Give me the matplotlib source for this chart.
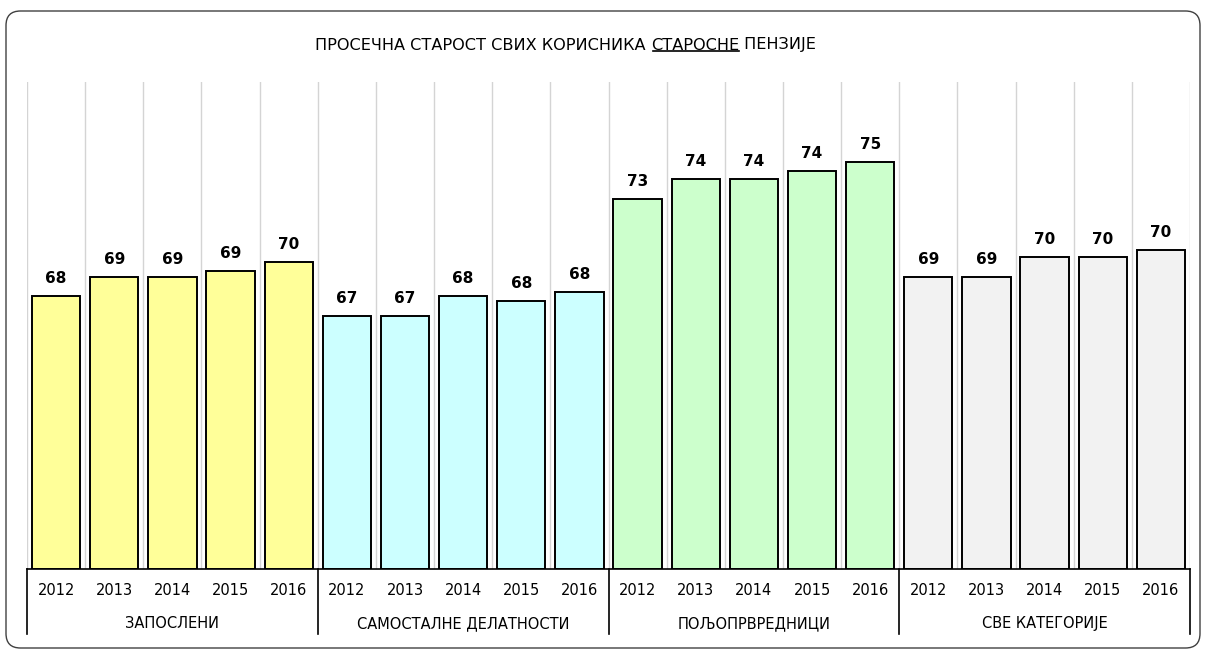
import matplotlib
matplotlib.use("Agg")
import matplotlib.pyplot as plt
from matplotlib.lines import Line2D
from matplotlib.patches import FancyBboxPatch
import matplotlib.transforms as mtransforms

GROUPS = ["ЗАПОСЛЕНИ", "САМОСТАЛНЕ ДЕЛАТНОСТИ", "ПОЉОПРВРЕДНИЦИ", "СВЕ КАТЕГОРИЈЕ"]
YEARS = ["2012", "2013", "2014", "2015", "2016"]
EMPLOYED = [68.15, 69.1, 69.1, 69.4, 69.84]
SELF_EMPLOYED = [67.15, 67.15, 68.12, 67.88, 68.33]
FARMERS = [73.0, 73.97, 73.97, 74.38, 74.85]
ALL = [69.1, 69.1, 70.07, 70.1, 70.45]
COLORS = ["#FFFF99", "#CCFFFF", "#CCFFCC", "#F2F2F2"]

series = [EMPLOYED, SELF_EMPLOYED, FARMERS, ALL]

fig = plt.figure(figsize=(12.08, 6.52), dpi=100, facecolor="white")
ax = fig.add_axes([27 / 1208, 1 - 568.7 / 652, (1190 - 27) / 1208, (568.7 - 82) / 652])

YMIN = 54.5
ax.set_ylim(YMIN, YMIN + 486.7 / 20)
n = len(YEARS)
ax.set_xlim(-0.5, len(GROUPS) * n - 0.5)

# vertical gridlines between categories
for k in range(len(GROUPS) * n + 1):
    ax.axvline(k - 0.5, color="#D4D4D4", lw=1, zorder=0)

for g, vals in enumerate(series):
    xs = [g * n + i for i in range(n)]
    ax.bar(xs, [v - YMIN for v in vals], bottom=YMIN, width=0.83,
           color=COLORS[g], edgecolor="black", linewidth=1.4, zorder=2)
    for x, v in zip(xs, vals):
        ax.text(x, v + 0.5, f"{v:.0f}", ha="center", va="bottom",
                fontsize=11, fontweight="bold", color="black")

for s in ["top", "left", "right"]:
    ax.spines[s].set_visible(False)
ax.spines["bottom"].set_color("black")
ax.spines["bottom"].set_linewidth(1.2)
ax.set_xticks([]); ax.set_yticks([])

# two-level category axis
trans = mtransforms.blended_transform_factory(ax.transData, ax.transAxes)
for g, name in enumerate(GROUPS):
    for i, yr in enumerate(YEARS):
        ax.text(g * n + i, -0.0458, yr, transform=trans, ha="center", va="center",
                fontsize=10.5, color="black")
    ax.text(g * n + (n - 1) / 2, -0.1136, name, transform=trans, ha="center",
            va="center", fontsize=10.5, color="black")
for g in range(len(GROUPS) + 1):
    ax.add_line(Line2D([g * n - 0.5, g * n - 0.5], [0, -0.134], transform=trans,
                       color="black", lw=1.2, clip_on=False))

# title with underlined word
ty = 1 - 45 / 652
t1 = fig.text(315 / 1208, ty, "ПРОСЕЧНА СТАРОСТ СВИХ КОРИСНИКА ", ha="left",
              va="center", fontsize=11.6)
t2 = ax.annotate("СТАРОСНЕ", xy=(1, 0), xycoords=t1, ha="left", va="bottom",
                 fontsize=11.6, annotation_clip=False)
t3 = ax.annotate(" ПЕНЗИЈЕ", xy=(1, 0), xycoords=t2, ha="left", va="bottom",
                 fontsize=11.6, annotation_clip=False)
fig.canvas.draw()
r = fig.canvas.get_renderer()
bb = t2.get_window_extent(r)
inv = fig.transFigure.inverted()
(x0, y0), (x1, _) = inv.transform([(bb.x0 + 2, bb.y0 + 1.3), (bb.x1, bb.y0)])
fig.add_artist(Line2D([x0, x1], [y0, y0], transform=fig.transFigure,
                      color="black", lw=1.2))

# rounded outer frame
frame = FancyBboxPatch((6 / 1208, 4 / 652), 1194 / 1208, (641 - 4) / 652,
                       boxstyle="round,pad=0,rounding_size=0.012",
                       transform=fig.transFigure, facecolor="none",
                       edgecolor="#404040", lw=1, mutation_aspect=1208 / 652)
fig.add_artist(frame)

fig.savefig("out.png", dpi=100, facecolor="white")
